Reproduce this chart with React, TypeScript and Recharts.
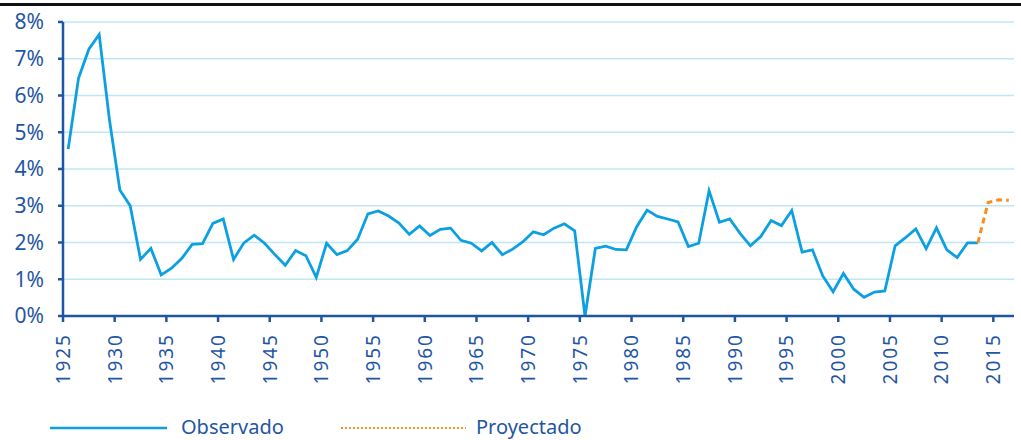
import { CartesianGrid, Legend, Line, LineChart, XAxis, YAxis } from "recharts";

const years = Array.from({ length: 92 }, (_, i) => 1925 + i);

// tasa observada, 1925-2013 (%)
const observado = [
  4.54, 6.47, 7.26, 7.66, 5.33, 3.43, 3.0, 1.54, 1.84, 1.12,
  1.3, 1.57, 1.95, 1.97, 2.52, 2.64, 1.54, 1.99, 2.2, 1.98,
  1.67, 1.38, 1.78, 1.64, 1.05, 1.98, 1.67, 1.78, 2.09, 2.78,
  2.86, 2.72, 2.53, 2.22, 2.45, 2.19, 2.36, 2.39, 2.06, 1.98,
  1.77, 2.0, 1.67, 1.82, 2.02, 2.29, 2.21, 2.39, 2.51, 2.32,
  0.0, 1.84, 1.9, 1.81, 1.8, 2.43, 2.88, 2.71, 2.64, 2.56,
  1.89, 1.98, 3.41, 2.55, 2.64, 2.25, 1.91, 2.16, 2.6, 2.46,
  2.87, 1.74, 1.8, 1.09, 0.66, 1.16, 0.73, 0.51, 0.65, 0.68,
  1.91, 2.13, 2.37, 1.83, 2.4, 1.8, 1.59, 1.99, 1.99,
];

// proyección 2013-2016 (%)
const proyectadoDesde = 2013;
const proyectado = [1.99, 3.09, 3.16, 3.15];

const xTicks = [1925, 1930, 1935, 1940, 1945, 1950, 1955, 1960, 1965, 1970, 1975, 1980, 1985, 1990, 1995, 2000, 2005, 2010, 2015];
const yTicks = [0, 1, 2, 3, 4, 5, 6, 7, 8];

const data = years.map((y, i) => ({
  x: y + 0.5,
  obs: i < observado.length ? observado[i] : null,
  proj: y >= proyectadoDesde ? proyectado[y - proyectadoDesde] ?? null : null,
}));

const AXIS = "#1f56a3";
const BLUE = "#0ca0e0";
const ORANGE = "#f5901e";
const FONT = "'Noto Sans', sans-serif";

function YearTick(props: any) {
  const { x, y, payload } = props;
  return (
    <text
      x={0}
      y={0}
      transform={`translate(${x},${y + 9}) rotate(-90)`}
      textAnchor="end"
      dy="0.36em"
      fill={AXIS}
      fontSize={19}
      fontFamily={FONT}
      letterSpacing={2}
    >
      {payload.value}
    </text>
  );
}

function LegendContent() {
  return (
    <div style={{ position: "relative", height: 27, fontFamily: FONT, fontSize: 20, color: AXIS }}>
      <svg width={130} height={6} style={{ position: "absolute", left: 50, top: 12 }}>
        <line x1={0} y1={3} x2={117} y2={3} stroke={BLUE} strokeWidth={2.5} />
      </svg>
      <span style={{ position: "absolute", left: 181, top: 0, lineHeight: "27px" }}>Observado</span>
      <svg width={130} height={6} style={{ position: "absolute", left: 341, top: 12 }}>
        <line x1={0} y1={3} x2={125} y2={3} stroke={ORANGE} strokeWidth={2} strokeDasharray="2 2" />
      </svg>
      <span style={{ position: "absolute", left: 476, top: 0, lineHeight: "27px" }}>Proyectado</span>
    </div>
  );
}

export default function App() {
  return (
    <div style={{ position: "absolute", left: 0, top: 0, width: 1021, height: 440, background: "#fff" }}>
      <div style={{ position: "absolute", left: 0, top: 3, width: 1021, height: 2.5, background: "#111" }} />
      <LineChart width={1021} height={440} data={data} margin={{ top: 22, right: 7, left: 0, bottom: 0 }}>
        <CartesianGrid vertical={false} stroke="#bfe6f6" strokeWidth={1.5} />
        <XAxis
          dataKey="x"
          type="number"
          domain={[1925, 2017]}
          ticks={xTicks}
          interval={0}
          height={97}
          stroke={AXIS}
          strokeWidth={2.5}
          tickSize={6}
          tick={<YearTick />}
        />
        <YAxis
          domain={[0, 8]}
          ticks={yTicks}
          width={63}
          stroke={AXIS}
          strokeWidth={2.5}
          tickSize={5}
          tickMargin={14}
          tickFormatter={(v) => `${v}%`}
          tick={{ fill: AXIS, fontSize: 21, fontFamily: FONT }}
        />
        <Legend verticalAlign="bottom" content={<LegendContent />} />
        <Line dataKey="obs" stroke={BLUE} strokeWidth={2.8} dot={false} isAnimationActive={false} />
        <Line dataKey="proj" stroke={ORANGE} strokeWidth={3} strokeDasharray="6 4" dot={false} isAnimationActive={false} />
      </LineChart>
    </div>
  );
}
